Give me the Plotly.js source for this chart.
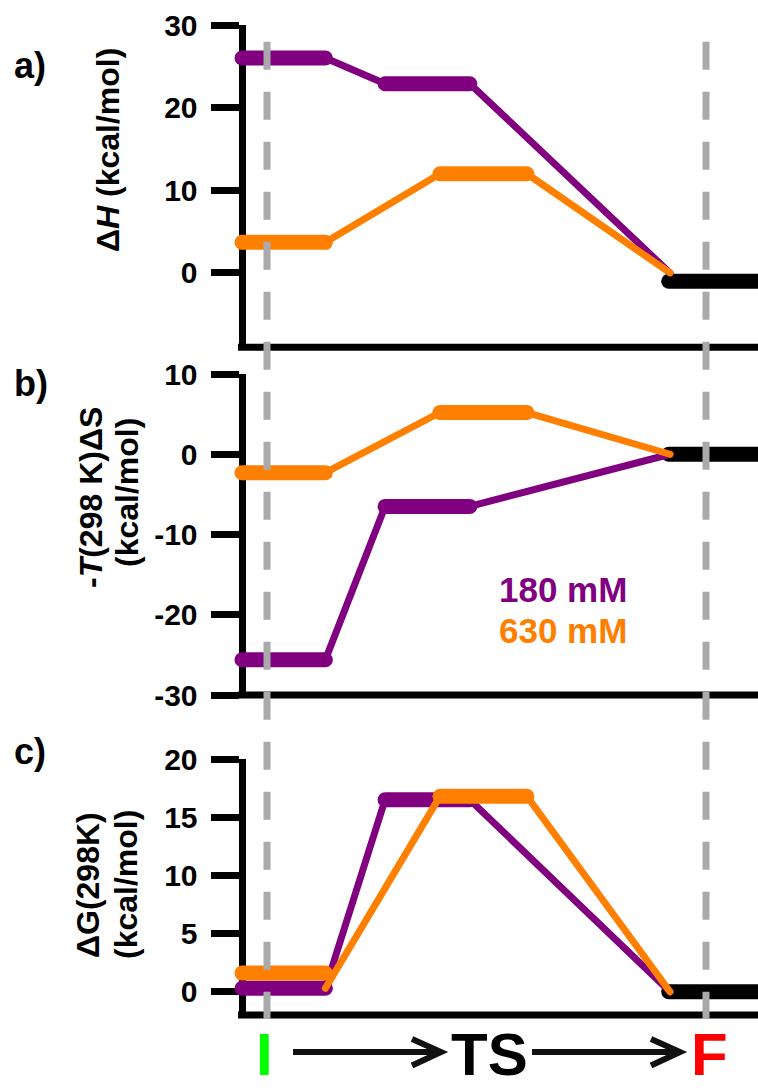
<!DOCTYPE html>
<html><head><meta charset="utf-8">
<script src="https://cdn.plot.ly/plotly-3.0.1.min.js"></script>
<style>
html,body{margin:0;padding:0;background:#fff;}
#chart{width:758px;height:1090px;}
.scatterlayer .js-line{stroke-linecap:round;stroke-linejoin:round;}
</style></head><body><div id="chart"></div>
<script>
// ---------------- DATA ----------------
// reaction coordinate: I (dashed line) = 0, F (dashed line) = 10
const stateNames = ['I', 'TS', 'F'];
const spanI = [-0.57, 1.33];
const spanTS180 = [2.69, 4.62];
const spanTS630 = [3.94, 5.92];
const spanF = [9.15, 11.6];
const linkEndX = 9.18;
const markerX = [0, 10];            // dashed guide lines at I and F

// a) ΔH (kcal/mol): [I, TS]
const dH180 = [26.0, 22.9];
const dH630 = [3.7, 12.0];
const dHF = -1.0;
const dHLinkF = 0.0;
// b) -T(298 K)ΔS (kcal/mol)
const tdS180 = [-25.6, -6.5];
const tdS630 = [-2.3, 5.2];
const tdSF = 0.0;
const tdSLinkF = 0.0;
// c) ΔG(298K) (kcal/mol)
const dG180 = [0.3, 16.5];
const dG630 = [1.6, 16.8];
const dGF = 0.0;
const dGLinkF = 0.0;
const dG630LinkStart = 0.3;

const yRanges = [[-9, 30], [-30, 10], [-2, 20]];
const yTicks = [[0, 10, 20, 30], [-30, -20, -10, 0, 10], [0, 5, 10, 15, 20]];
const yTickText = [['0', '10', '20', '30'], ['-30', '-20', '-10', '0', '10'], ['0', '5', '10', '15', '20']];
const seriesLabels = ['180 mM', '630 mM'];
const panelLetters = ['a)', 'b)', 'c)'];

// ---------------- STYLE / LAYOUT ----------------
const W = 758, H = 1090;
const PURPLE = '#800080', ORANGE = '#ff8000', GRAY = '#aaaaaa';
const FONT = 'Liberation Sans, Arial, Helvetica, sans-serif';
const px = p => p / W;
const py = p => 1 - p / H;
const unitPx = (706 - 267) / 10;
const xRange = [(226 - 267) / unitPx, (758 - 267) / unitPx];
const xDomain = [px(226), 1];
const yDomains = [[py(347.3), py(25)], [py(695), py(374)], [py(1015), py(759)]];
const axisPos = px(241.5);

const LEVEL_W = 15, LINK_W = 7;

const panels = [
  {v180: dH180, v630: dH630, vF: dHF, linkF: dHLinkF, start630: null},
  {v180: tdS180, v630: tdS630, vF: tdSF, linkF: tdSLinkF, start630: null},
  {v180: dG180, v630: dG630, vF: dGF, linkF: dGLinkF, start630: dG630LinkStart}
];

const traces = [];
panels.forEach((p, i) => {
  const xa = i === 0 ? 'x' : 'x' + (i + 1);
  const ya = i === 0 ? 'y' : 'y' + (i + 1);
  const base = {xaxis: xa, yaxis: ya, mode: 'lines', hoverinfo: 'skip', showlegend: false};
  // final state level
  traces.push(Object.assign({}, base, {
    x: spanF, y: [p.vF, p.vF], line: {color: 'black', width: LEVEL_W}
  }));
  const series = [
    {vals: p.v180, ts: spanTS180, color: PURPLE, start: null},
    {vals: p.v630, ts: spanTS630, color: ORANGE, start: p.start630}
  ];
  series.forEach(s => {
    const s0 = s.start === null ? s.vals[0] : s.start;
    traces.push(Object.assign({}, base, {
      x: [spanI[1], s.ts[0], s.ts[1], linkEndX],
      y: [s0, s.vals[1], s.vals[1], p.linkF],
      line: {color: s.color, width: LINK_W}
    }));
    traces.push(Object.assign({}, base, {
      x: [spanI[0], spanI[1], null, s.ts[0], s.ts[1]],
      y: [s.vals[0], s.vals[0], null, s.vals[1], s.vals[1]],
      line: {color: s.color, width: LEVEL_W}
    }));
  });
});

const layout = {
  width: W, height: H,
  margin: {l: 0, r: 0, t: 0, b: 0},
  paper_bgcolor: 'white', plot_bgcolor: 'rgba(0,0,0,0)',
  showlegend: false,
  font: {family: FONT, color: 'black'},
  shapes: [], annotations: []
};

for (let i = 0; i < 3; i++) {
  const sfx = i === 0 ? '' : String(i + 1);
  layout['xaxis' + sfx] = {
    domain: xDomain, range: xRange, anchor: 'y' + sfx, visible: false, fixedrange: true
  };
  layout['yaxis' + sfx] = {
    domain: yDomains[i], range: yRanges[i], anchor: 'free', position: axisPos,
    tickmode: 'array', tickvals: yTicks[i], ticktext: yTickText[i],
    ticks: 'outside', ticklen: 28, tickwidth: 7, tickcolor: 'black',
    showline: true, linewidth: 7, linecolor: 'black', layer: 'below traces',
    showgrid: false, zeroline: false, fixedrange: true, ticklabelstandoff: 7,
    tickfont: {family: FONT, size: 30, weight: 'bold', color: 'black'}
  };
  // bottom axis line
  layout.shapes.push({
    type: 'line', xref: 'paper', yref: 'y' + sfx + ' domain',
    x0: px(238), x1: 1, y0: 0, y1: 0, line: {color: 'black', width: 7}
  });
}

// dashed guide lines at I and F (span all panels)
markerX.forEach(xv => {
  layout.shapes.push({
    type: 'line', xref: 'x', yref: 'paper', x0: xv, x1: xv, y0: py(41.7), y1: py(1019),
    line: {color: GRAY, width: 7, dash: '28px,22px'}, layer: 'above'
  });
});

// reaction-coordinate arrows at the bottom
const ARROW_Y = 1052;
function arrow(x0, x1, y) {
  layout.shapes.push({type: 'line', xref: 'paper', yref: 'paper',
    x0: px(x0), x1: px(x1 - 2), y0: py(y), y1: py(y), line: {color: '#111', width: 6}});
  layout.shapes.push({type: 'path', xref: 'paper', yref: 'paper',
    path: `M${px(x1 - 29)},${py(y - 13)} L${px(x1)},${py(y)} L${px(x1 - 29)},${py(y + 13.5)}`,
    line: {color: '#111', width: 6}});
}
arrow(293, 441, ARROW_Y);
arrow(532, 680, ARROW_Y);

function ann(text, x, y, size, color, extra) {
  layout.annotations.push(Object.assign({
    text: text, xref: 'paper', yref: 'paper', x: px(x), y: py(y),
    xanchor: 'center', yanchor: 'middle', showarrow: false,
    font: {family: FONT, size: size, weight: 'bold', color: color || 'black'}
  }, extra || {}));
}
// y-axis titles
ann('Δ<i>H</i> (kcal/mol)', 108, 150, 32, 'black', {textangle: -90});
ann('-<i>T</i>(298 K)ΔS', 91, 498, 32, 'black', {textangle: -90});
ann('(kcal/mol)', 127, 493, 32, 'black', {textangle: -90});
ann('ΔG(298K)', 88, 885, 32, 'black', {textangle: -90});
ann('(kcal/mol)', 126, 885, 32, 'black', {textangle: -90});
// panel letters
ann(panelLetters[0], 30, 66, 36);
ann(panelLetters[1], 31, 383, 36);
ann(panelLetters[2], 30, 751, 36);
// series labels
ann(seriesLabels[0], 563, 589, 35, PURPLE);
ann(seriesLabels[1], 563, 630, 35, ORANGE);
// state labels (kept inside the page)
const bottomOpts = {yanchor: 'bottom', borderpad: 0};
ann(stateNames[0], 264, 1089, 60, '#00ff00', bottomOpts);
ann(stateNames[1], 489, 1089, 60, 'black', bottomOpts);
ann(stateNames[2], 709, 1089, 60, '#ff0000', bottomOpts);

Plotly.newPlot('chart', traces, layout, {staticPlot: true, displayModeBar: false});
</script></body></html>
